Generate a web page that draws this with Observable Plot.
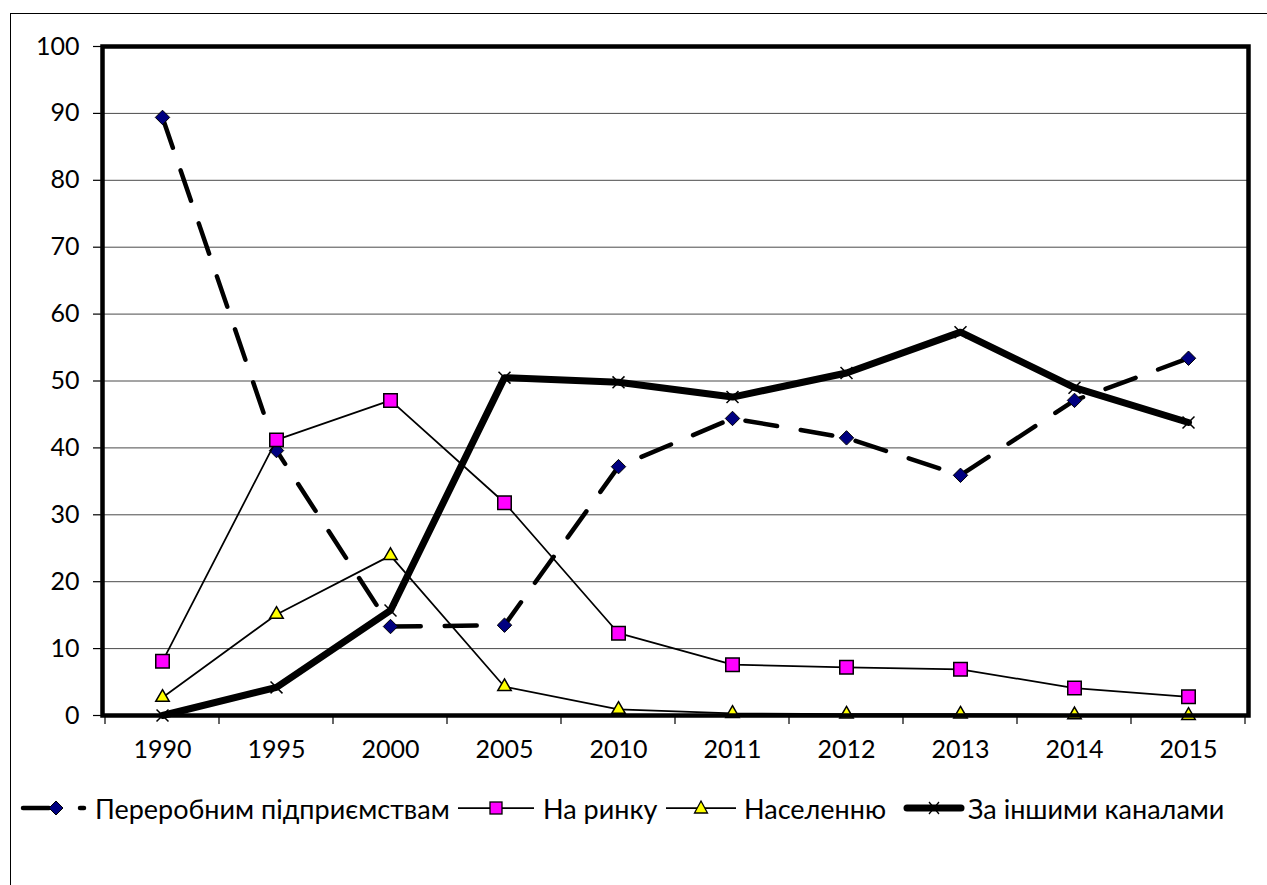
<!DOCTYPE html>
<html><head><meta charset="utf-8">
<script src="https://cdn.jsdelivr.net/npm/d3@7"></script>
<script src="https://cdn.jsdelivr.net/npm/@observablehq/plot@0.6"></script>
<style>
body{margin:0;background:#fff;font-family:Lato,"Open Sans",sans-serif;}
#wrap{position:relative;width:1267px;height:885px;overflow:hidden;background:#fff;}
#border{position:absolute;left:10px;top:13px;width:1300px;height:900px;border:1.5px solid #000;box-sizing:border-box;}
#chart{position:absolute;left:0;top:0;}
#legend{position:absolute;left:0;top:790px;width:1267px;height:36px;font-size:27px;color:#000;white-space:nowrap;}
#legend svg, #legend span{position:absolute;top:50%;transform:translateY(-50%);}
#legend span{line-height:1;}
</style></head><body>
<div id="wrap"><div id="border"></div><div id="chart"></div><div id="legend"></div></div>
<script>
// ---- data ----
const years = ["1990","1995","2000","2005","2010","2011","2012","2013","2014","2015"];
const pererobnym = [89.4, 39.6, 13.3, 13.5, 37.2, 44.4, 41.5, 35.9, 47.1, 53.4];
const naRynku    = [8.1, 41.2, 47.1, 31.8, 12.3, 7.6, 7.2, 6.9, 4.1, 2.8];
const naselennyu = [2.7, 15.1, 23.9, 4.3, 0.9, 0.3, 0.2, 0.2, 0.1, 0.0];
const inshymy    = [0.0, 4.2, 15.7, 50.5, 49.8, 47.6, 51.2, 57.3, 49.0, 43.8];
const yTicks = [0, 10, 20, 30, 40, 50, 60, 70, 80, 90, 100];
const seriesNames = ["Переробним підприємствам", "На ринку", "Населенню", "За іншими каналами"];

const rows = vals => years.map((yr, i) => ({year: yr, value: vals[i]}));
const s1 = rows(pererobnym), s2 = rows(naRynku), s3 = rows(naselennyu), s4 = rows(inshymy);

// tick marks at category boundaries (Excel style), positioned via the x scale
function boundaryTicks(index, scales, values, dims) {
  const x = scales.x;
  const step = x(years[1]) - x(years[0]);
  const y0 = dims.height - dims.marginBottom;
  const g = d3.create("svg:g").attr("stroke", "#000").attr("stroke-width", 1.2);
  const xs = years.map(yr => x(yr) - step / 2).concat([x(years[years.length - 1]) + step / 2]);
  for (const xv of xs) g.append("line").attr("x1", xv).attr("x2", xv).attr("y1", y0).attr("y2", y0 + 9);
  return g.node();
}

const chart = Plot.plot({
  width: 1267, height: 780,
  marginLeft: 102, marginRight: 19, marginTop: 46, marginBottom: 65,
  style: {fontFamily: "Lato, 'Open Sans', sans-serif", fontSize: "25px", color: "#000", background: "transparent", overflow: "visible"},
  x: {type: "point", domain: years, padding: 0.5, label: null},
  y: {domain: [0, 100], label: null},
  marks: [
    Plot.ruleY(yTicks.filter(d => d > 0 && d < 100), {stroke: "#4a4a4a", strokeWidth: 1}),
    Plot.axisY({ticks: yTicks, tickSize: 9, tickPadding: 14, fontSize: 25, label: null, strokeWidth: 1.2}),
    Plot.axisX({tickSize: 0, tickPadding: 25, fontSize: 25, label: null}),
    boundaryTicks,
    // Переробним підприємствам
    Plot.line(s1, {x: "year", y: "value", stroke: "#000", strokeWidth: 4.5, strokeDasharray: "32,24", strokeLinecap: "round"}),
    Plot.dot(s1, {x: "year", y: "value", symbol: "diamond2", r: 6.5, fill: "#000080", stroke: "#000", strokeWidth: 1}),
    // На ринку
    Plot.line(s2, {x: "year", y: "value", stroke: "#000", strokeWidth: 1.75}),
    Plot.dot(s2, {x: "year", y: "value", symbol: "square", r: 7.6, fill: "#FF00FF", stroke: "#000", strokeWidth: 1.5}),
    // Населенню
    Plot.line(s3, {x: "year", y: "value", stroke: "#000", strokeWidth: 1.75}),
    Plot.dot(s3, {x: "year", y: "value", symbol: "triangle", r: 5, fill: "#FFFF00", stroke: "#000", strokeWidth: 1.5}),
    // За іншими каналами
    Plot.line(s4, {x: "year", y: "value", stroke: "#000", strokeWidth: 7, strokeLinejoin: "round"}),
    Plot.dot(s4, {x: "year", y: "value", symbol: "times", r: 5.5, stroke: "#000", strokeWidth: 1.5}),
    Plot.frame({stroke: "#000", strokeWidth: 4.5})
  ]
});
document.getElementById("chart").appendChild(chart);

// ---- legend ----
const legendSamples = [
  `<svg width="70" height="20"><path d="M3,10H29" stroke="#000" stroke-width="4.5" stroke-linecap="round"/><path d="M60,10H64" stroke="#000" stroke-width="4.5" stroke-linecap="round"/><polygon points="36,3 43,10 36,17 29,10" fill="#000080" stroke="#000" stroke-width="1"/></svg>`,
  `<svg width="78" height="20"><path d="M1,10H77" stroke="#000" stroke-width="1.75"/><rect x="33" y="4" width="12" height="12" fill="#FF00FF" stroke="#000" stroke-width="1.3"/></svg>`,
  `<svg width="72" height="20"><path d="M1,10H71" stroke="#000" stroke-width="1.75"/><polygon points="36,3 42.5,15 29.5,15" fill="#FFFF00" stroke="#000" stroke-width="1.3"/></svg>`,
  `<svg width="62" height="20"><path d="M4,10H58" stroke="#000" stroke-width="7" stroke-linecap="round"/><path d="M26,4L36,16M36,4L26,16" stroke="#000" stroke-width="1.3"/></svg>`
];
const sampleLeft = [20, 457, 665, 903];
const textLeft = [95, 543, 744, 968];
const legend = document.getElementById("legend");
seriesNames.forEach((name, i) => {
  const holder = document.createElement("div");
  holder.innerHTML = legendSamples[i];
  const svg = holder.firstChild;
  svg.style.left = sampleLeft[i] + "px";
  legend.appendChild(svg);
  const sp = document.createElement("span");
  sp.textContent = name;
  sp.style.left = textLeft[i] + "px";
  legend.appendChild(sp);
});
</script>
</body></html>
